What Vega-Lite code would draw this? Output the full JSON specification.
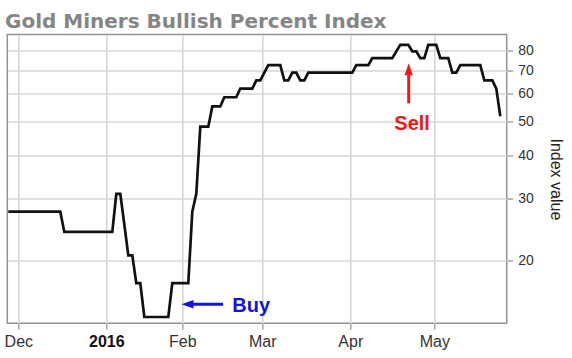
{
  "$schema": "https://vega.github.io/schema/vega-lite/v6.json",
  "width": 499.4,
  "height": 288.8,
  "autosize": {"type": "none"},
  "padding": {"left": 7.3, "top": 34.5, "right": 65.3, "bottom": 34.7},
  "background": "white",
  "title": {
    "text": "Gold Miners Bullish Percent Index",
    "anchor": "start",
    "frame": "group",
    "dx": -2.3,
    "offset": -13,
    "baseline": "alphabetic",
    "font": "DejaVu Sans",
    "fontSize": 20,
    "fontWeight": "bold",
    "color": "#858585"
  },
  "config": {
    "view": {"stroke": "#929292", "strokeWidth": 1.5}
  },
  "datasets": {
    "bpi": [
      {"date": "2015-11-25", "day": -3, "value": 27.59},
      {"date": "2015-12-15", "day": 10, "value": 27.59},
      {"date": "2015-12-16", "day": 11, "value": 24.14},
      {"date": "2016-01-05", "day": 23, "value": 24.14},
      {"date": "2016-01-06", "day": 24, "value": 31.03},
      {"date": "2016-01-07", "day": 25, "value": 31.03},
      {"date": "2016-01-08", "day": 26, "value": 25.4},
      {"date": "2016-01-11", "day": 27, "value": 20.69},
      {"date": "2016-01-12", "day": 28, "value": 20.69},
      {"date": "2016-01-13", "day": 29, "value": 17.24},
      {"date": "2016-01-14", "day": 30, "value": 17.24},
      {"date": "2016-01-15", "day": 31, "value": 13.79},
      {"date": "2016-01-26", "day": 37, "value": 13.79},
      {"date": "2016-01-27", "day": 38, "value": 17.24},
      {"date": "2016-02-02", "day": 42, "value": 17.24},
      {"date": "2016-02-03", "day": 43, "value": 27.59},
      {"date": "2016-02-04", "day": 44, "value": 31.03},
      {"date": "2016-02-05", "day": 45, "value": 48.28},
      {"date": "2016-02-09", "day": 47, "value": 48.28},
      {"date": "2016-02-10", "day": 48, "value": 55.17},
      {"date": "2016-02-12", "day": 50, "value": 55.17},
      {"date": "2016-02-16", "day": 51, "value": 58.62},
      {"date": "2016-02-19", "day": 54, "value": 58.62},
      {"date": "2016-02-22", "day": 55, "value": 62.07},
      {"date": "2016-02-25", "day": 58, "value": 62.07},
      {"date": "2016-02-26", "day": 59, "value": 65.52},
      {"date": "2016-02-29", "day": 60, "value": 65.52},
      {"date": "2016-03-01", "day": 61, "value": 68.97},
      {"date": "2016-03-02", "day": 62, "value": 72.41},
      {"date": "2016-03-07", "day": 65, "value": 72.41},
      {"date": "2016-03-08", "day": 66, "value": 65.52},
      {"date": "2016-03-09", "day": 67, "value": 65.52},
      {"date": "2016-03-10", "day": 68, "value": 68.97},
      {"date": "2016-03-11", "day": 69, "value": 68.97},
      {"date": "2016-03-14", "day": 70, "value": 65.52},
      {"date": "2016-03-15", "day": 71, "value": 65.52},
      {"date": "2016-03-16", "day": 72, "value": 68.97},
      {"date": "2016-04-01", "day": 83, "value": 68.97},
      {"date": "2016-04-04", "day": 84, "value": 72.41},
      {"date": "2016-04-07", "day": 87, "value": 72.41},
      {"date": "2016-04-08", "day": 88, "value": 75.86},
      {"date": "2016-04-15", "day": 93, "value": 75.86},
      {"date": "2016-04-18", "day": 94, "value": 79.31},
      {"date": "2016-04-19", "day": 95, "value": 82.76},
      {"date": "2016-04-21", "day": 97, "value": 82.76},
      {"date": "2016-04-22", "day": 98, "value": 79.31},
      {"date": "2016-04-25", "day": 99, "value": 79.31},
      {"date": "2016-04-26", "day": 100, "value": 75.86},
      {"date": "2016-04-27", "day": 101, "value": 75.86},
      {"date": "2016-04-28", "day": 102, "value": 82.76},
      {"date": "2016-05-02", "day": 104, "value": 82.76},
      {"date": "2016-05-03", "day": 105, "value": 75.86},
      {"date": "2016-05-05", "day": 107, "value": 75.86},
      {"date": "2016-05-06", "day": 108, "value": 68.97},
      {"date": "2016-05-09", "day": 109, "value": 68.97},
      {"date": "2016-05-10", "day": 110, "value": 72.41},
      {"date": "2016-05-17", "day": 115, "value": 72.41},
      {"date": "2016-05-18", "day": 116, "value": 65.52},
      {"date": "2016-05-20", "day": 118, "value": 65.52},
      {"date": "2016-05-23", "day": 119, "value": 62.07},
      {"date": "2016-05-24", "day": 120, "value": 51.72}
    ],
    "shafts": [
      {"signal": "Buy", "day": 41.6, "value": 15.0, "day2": 50.7, "value2": 15.0},
      {"signal": "Sell", "day": 97.1, "value": 70.0, "day2": 97.1, "value2": 56.3}
    ],
    "tips": [
      {"signal": "Buy", "day": 40.3, "value": 15.0},
      {"signal": "Sell", "day": 97.1, "value": 73.3}
    ],
    "labels": [
      {"signal": "Buy", "day": 53.0, "value": 14.28},
      {"signal": "Sell", "day": 93.5, "value": 47.2}
    ]
  },
  "encoding": {
    "x": {
      "field": "day",
      "type": "quantitative",
      "title": null,
      "scale": {"domain": [-3.25, 121.6], "nice": false, "zero": false},
      "axis": {
        "values": [-0.5, 21.5, 40.5, 60.5, 82.5, 103.5],
        "labelExpr": "datum.value < 10 ? 'Dec' : datum.value < 30 ? '2016' : datum.value < 50 ? 'Feb' : datum.value < 70 ? 'Mar' : datum.value < 90 ? 'Apr' : 'May'",
        "labelFontWeight": {"condition": {"test": "datum.value == 21.5", "value": "bold"}, "value": "normal"},
        "labelColor": {"condition": {"test": "datum.value == 21.5", "value": "#111111"}, "value": "#333333"},
        "grid": true,
        "gridColor": "#d6d6d6",
        "gridWidth": 1.6,
        "domain": false,
        "tickColor": "#999999",
        "tickSize": 6,
        "tickWidth": 1.3,
        "labelFont": "Liberation Sans",
        "labelFontSize": 16,
        "labelPadding": 4,
        "labelFlush": false,
        "labelOverlap": false
      }
    },
    "y": {
      "field": "value",
      "type": "quantitative",
      "title": "Index value",
      "scale": {"type": "log", "domain": [13.23, 88.6], "nice": false},
      "axis": {
        "orient": "right",
        "values": [20, 30, 40, 50, 60, 70, 80],
        "format": "d",
        "grid": true,
        "gridColor": "#d6d6d6",
        "gridWidth": 1.6,
        "domain": false,
        "tickColor": "#999999",
        "tickSize": 6,
        "tickWidth": 1.3,
        "labelFont": "Liberation Sans",
        "labelFontSize": 14,
        "labelColor": "#333333",
        "labelPadding": 5,
        "titleFont": "Liberation Sans",
        "titleFontSize": 16,
        "titleFontWeight": "normal",
        "titleColor": "#222222",
        "titlePadding": 14
      }
    }
  },
  "layer": [
    {
      "data": {"name": "bpi"},
      "mark": {"type": "line", "color": "#111111", "strokeWidth": 2.7, "clip": true}
    },
    {
      "data": {"name": "shafts"},
      "mark": {"type": "rule", "strokeWidth": 3},
      "encoding": {
        "x2": {"field": "day2"},
        "y2": {"field": "value2"},
        "color": {"field": "signal", "type": "nominal", "legend": null, "scale": {"domain": ["Buy", "Sell"], "range": ["#1414dc", "#f01818"]}}
      }
    },
    {
      "data": {"name": "tips"},
      "mark": {"type": "point", "filled": true, "opacity": 1, "size": 144},
      "encoding": {
        "shape": {"field": "signal", "type": "nominal", "legend": null, "scale": {"domain": ["Buy", "Sell"], "range": ["M0,0L2,-0.7L2,0.7Z", "M0,0L-0.7,2L0.7,2Z"]}},
        "color": {"field": "signal", "type": "nominal", "legend": null, "scale": {"domain": ["Buy", "Sell"], "range": ["#1414dc", "#f01818"]}}
      }
    },
    {
      "data": {"name": "labels"},
      "mark": {"type": "text", "align": "left", "baseline": "alphabetic", "font": "Liberation Sans", "fontSize": 20, "fontWeight": "bold"},
      "encoding": {
        "text": {"field": "signal"},
        "color": {"field": "signal", "type": "nominal", "legend": null, "scale": {"domain": ["Buy", "Sell"], "range": ["#1414dc", "#f01818"]}}
      }
    }
  ]
}
